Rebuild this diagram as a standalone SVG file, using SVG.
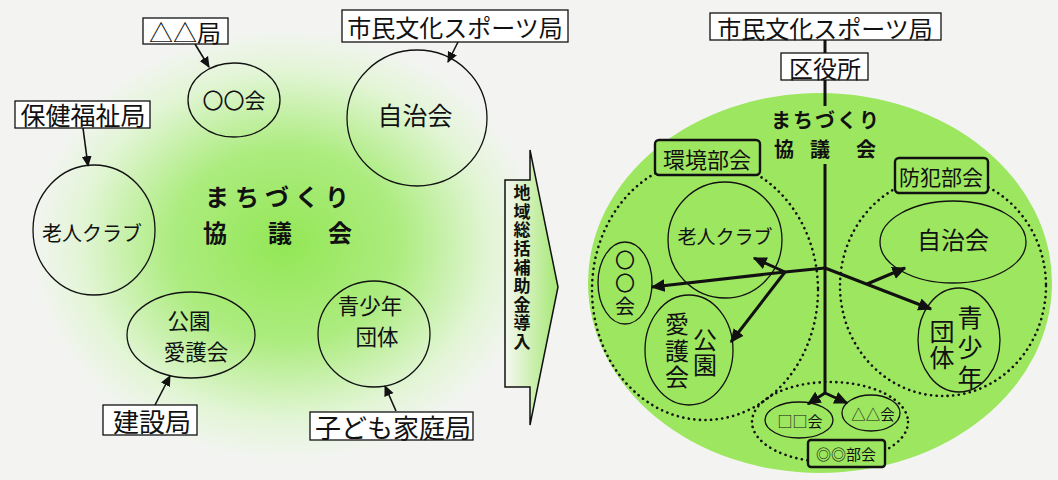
<svg xmlns="http://www.w3.org/2000/svg" width="1058" height="480" viewBox="0 0 1058 480">
<defs>
<style>
text{font-family:"Noto Sans CJK JP","Noto Sans",sans-serif;fill:#111;text-anchor:middle;dominant-baseline:central}
.b{font-weight:bold}
.v{writing-mode:vertical-rl}
.box{fill:#fff;stroke:#111;stroke-width:1.3}
.gbox{fill:#9de660;stroke:#111;stroke-width:2.4}
.ol{fill:none;stroke:#111;stroke-width:1.3}
.dot{fill:none;stroke:#111;stroke-width:2.6;stroke-dasharray:0.1 5.5;stroke-linecap:round}
.thin{fill:none;stroke:#111;stroke-width:1.6;marker-end:url(#ahs)}
.thick{fill:none;stroke:#111;stroke-width:3;stroke-linejoin:round}
.thicka{fill:none;stroke:#111;stroke-width:3;marker-end:url(#ahl)}
</style>
<radialGradient id="lg" gradientUnits="userSpaceOnUse" cx="285" cy="245" r="255" gradientTransform="translate(285 245) scale(1 0.85) translate(-285 -245)">
<stop offset="0" stop-color="#93e756"/>
<stop offset="0.45" stop-color="#adec80"/>
<stop offset="0.8" stop-color="#e2f5d5"/>
<stop offset="1" stop-color="#f3f4f2"/>
</radialGradient>
<linearGradient id="ag" x1="0" y1="0" x2="1" y2="0">
<stop offset="0" stop-color="#f5f8f0"/>
<stop offset="1" stop-color="#a6e874"/>
</linearGradient>
<marker id="ahs" viewBox="0 0 10 10" refX="9" refY="5" markerWidth="11" markerHeight="11" markerUnits="userSpaceOnUse" orient="auto"><path d="M0,0.5 L10,5 L0,9.5 z" fill="#111"/></marker>
<marker id="ahl" viewBox="0 0 10 10" refX="9" refY="5" markerWidth="14" markerHeight="14" markerUnits="userSpaceOnUse" orient="auto"><path d="M0,0.5 L10,5 L0,9.5 z" fill="#111"/></marker>
</defs>
<rect x="0" y="0" width="1058" height="480" fill="#f3f4f2"/>
<rect x="0" y="0" width="540" height="480" fill="url(#lg)"/>

<!-- Left panel -->
<g id="n-title-left">
<text class="b" font-size="24"><tspan x="280" y="195" letter-spacing="6">まちづくり</tspan><tspan x="215" y="231" letter-spacing="0">協</tspan><tspan x="280" y="231">議</tspan><tspan x="340" y="231">会</tspan></text>
</g>
<g id="n-sankaku-kyoku"><rect class="box" x="143" y="18" width="85" height="26"/><text x="185" y="31" font-size="24">△△局</text></g>
<g id="n-marumaru-kai"><ellipse class="ol" cx="234" cy="100" rx="46" ry="37"/><text x="234" y="99" font-size="21">〇〇会</text></g>
<g id="n-hoken"><rect class="box" x="15" y="101" width="135" height="27"/><text x="83" y="114" font-size="25">保健福祉局</text></g>
<g id="n-roujin-left"><ellipse class="ol" cx="94" cy="230" rx="61" ry="65"/><text x="92" y="232" font-size="20">老人クラブ</text></g>
<g id="n-shimin-left"><rect class="box" x="342" y="10" width="226" height="32"/><text x="455" y="26" font-size="24">市民文化スポーツ局</text></g>
<g id="n-jichikai-left"><ellipse class="ol" cx="417" cy="118" rx="70" ry="68"/><text x="415" y="114" font-size="25">自治会</text></g>
<g id="n-kouen-left"><ellipse class="ol" cx="191" cy="335" rx="64" ry="43"/><text font-size="21.5"><tspan x="189" y="319">公園</tspan><tspan x="196" y="350">愛護会</tspan></text></g>
<g id="n-kensetsu"><rect class="box" x="103" y="405" width="94" height="30"/><text x="152" y="420" font-size="26">建設局</text></g>
<g id="n-seishounen-left"><ellipse class="ol" cx="374" cy="334" rx="56" ry="53"/><text font-size="21.5"><tspan x="370" y="304">青少年</tspan><tspan x="377" y="335">団体</tspan></text></g>
<g id="n-kodomo"><rect class="box" x="310" y="412" width="163" height="28"/><text x="393" y="426" font-size="26">子ども家庭局</text></g>

<!-- Big arrow -->
<g id="n-arrow">
<polygon points="505,180 530,180 530,150 558,287 530,425 530,387 505,387" fill="url(#ag)" stroke="#111" stroke-width="1.5"/>
<text class="b v" x="522" y="268" font-size="17" letter-spacing="1.6">地域総括補助金導入</text>
</g>

<!-- Right panel -->
<g id="n-council-right">
<ellipse cx="820" cy="283" rx="232" ry="190" fill="#9de660"/>
<text class="b" font-size="20"><tspan x="826" y="119" letter-spacing="2">まちづくり</tspan><tspan x="784" y="148" letter-spacing="0">協</tspan><tspan x="820" y="148">議</tspan><tspan x="866" y="148">会</tspan></text>
</g>
<g id="n-kankyo-group"><ellipse class="dot" cx="705" cy="290" rx="113" ry="130"/></g>
<g id="n-bouhan-group"><ellipse class="dot" cx="943" cy="286" rx="103" ry="110"/></g>
<g id="n-bottom-group"><ellipse class="dot" cx="830" cy="422" rx="78" ry="40"/></g>

<g id="n-shimin-right"><rect class="box" x="710" y="13" width="231" height="27"/><text x="825" y="27" font-size="24">市民文化スポーツ局</text></g>
<g id="n-kuyakusho"><rect class="box" x="781" y="53" width="87" height="27"/><text x="825" y="67" font-size="24">区役所</text></g>
<g id="n-kankyo-bukai"><rect class="gbox" x="655" y="140" width="105" height="35" rx="4"/><text x="707" y="158" font-size="22">環境部会</text></g>
<g id="n-bouhan-bukai"><rect class="gbox" x="895" y="158" width="93" height="35" rx="4"/><text x="941" y="176" font-size="21">防犯部会</text></g>
<g id="n-roujin-right"><ellipse class="ol" cx="725" cy="240" rx="57" ry="58"/><text x="725" y="235" font-size="19">老人クラブ</text></g>
<g id="n-marumaru-right"><ellipse class="ol" cx="625" cy="283" rx="27" ry="41"/><text class="v" x="625" y="285" font-size="20" letter-spacing="3">〇〇会</text></g>
<g id="n-kouen-right"><ellipse class="ol" cx="689" cy="350" rx="44" ry="55"/><text class="v" x="705" y="353" font-size="24" letter-spacing="1">公園</text><text class="v" x="677" y="352" font-size="24" letter-spacing="2.5">愛護会</text></g>
<g id="n-jichikai-right"><ellipse class="ol" cx="953" cy="242" rx="73" ry="41"/><text x="953" y="238" font-size="24">自治会</text></g>
<g id="n-seishounen-right"><ellipse class="ol" cx="959" cy="340" rx="41" ry="52"/><text class="v" x="970" y="350" font-size="25" letter-spacing="5">青少年</text><text class="v" x="942" y="345" font-size="25" letter-spacing="1">団体</text></g>
<g id="n-shikaku-kai"><ellipse class="ol" cx="799" cy="420" rx="34" ry="18"/><text x="800" y="420" font-size="15">□□会</text></g>
<g id="n-sankaku-kai"><ellipse class="ol" cx="871" cy="413" rx="29" ry="18"/><text x="873" y="413" font-size="14.5">△△会</text></g>
<g id="n-nijumaru-bukai"><rect class="gbox" x="808" y="440" width="77" height="27" rx="3" stroke-width="1.6"/><text x="846" y="453" font-size="15">◎◎部会</text></g>

<g id="connectors">
<path class="thin" d="M195,44 L209,67"/>
<path class="thin" d="M83,128 L88,166"/>
<path class="thin" d="M458,42 L448,62"/>
<path class="thin" d="M155,405 L170,376"/>
<path class="thin" d="M396,411 L385,386"/>
<path class="thick" d="M825,40 L825,53"/>
<path class="thick" d="M825,80 L825,106"/>
<path class="thick" d="M825,164 L825,393"/>
<path class="thicka" d="M825,393 L808,404"/>
<path class="thicka" d="M825,393 L847,403"/>
<path class="thicka" d="M825,268 L785,272 L652,287"/>
<path class="thicka" d="M785,272 L754,258"/>
<path class="thicka" d="M785,272 L731,342"/>
<path class="thicka" d="M825,268 L931,309"/>
<path class="thicka" d="M867,284 L905,268"/>
</g>
</svg>
